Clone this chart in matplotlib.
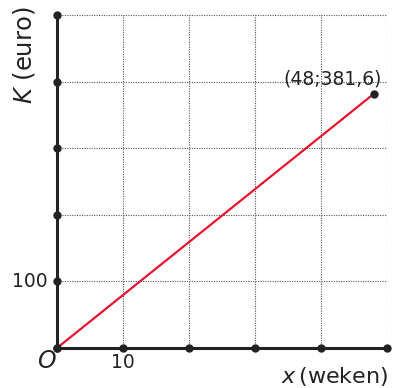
import matplotlib.pyplot as plt

# data
x_line = [0, 48]
k_line = [0, 381.6]
x_ticks = [0, 10, 20, 30, 40, 50]
y_ticks = [0, 100, 200, 300, 400, 500]
end_label = "(48;381,6)"

fig = plt.figure(figsize=(3.93, 3.88), dpi=100)
ax = fig.add_axes([57 / 393, 40 / 388, 330 / 393, 333 / 388])
ax.set_xlim(0, 50)
ax.set_ylim(0, 500)

# grid
for xv in x_ticks[1:]:
    ax.plot([xv, xv], [0, 500], color="#555555", lw=0.8, ls=(0, (1, 1.2)), zorder=1)
for yv in y_ticks[1:]:
    ax.plot([0, 50], [yv, yv], color="#555555", lw=0.8, ls=(0, (1, 1.2)), zorder=1)

for s in ["top", "right"]:
    ax.spines[s].set_visible(False)
for s in ["left", "bottom"]:
    ax.spines[s].set_linewidth(2.2)
    ax.spines[s].set_color("#222222")
ax.set_xticks([])
ax.set_yticks([])

# line
ax.plot(x_line, k_line, color="#e8142f", lw=1.6, zorder=3)
ax.plot(x_line[-1], k_line[-1], "o", color="#222222", ms=5, zorder=4, clip_on=False)

# dots on axes
ax.plot(x_ticks, [0] * len(x_ticks), "o", color="#222222", ms=5, clip_on=False, zorder=5)
ax.plot([0] * len(y_ticks), y_ticks, "o", color="#222222", ms=5, clip_on=False, zorder=5)

ax.annotate(end_label, (x_line[-1], k_line[-1]), xytext=(6, 4), textcoords="offset points",
            ha="right", va="bottom", fontsize=13.5, color="#222222")

ax.text(-1.4, 100, "100", ha="right", va="center", fontsize=13.5, color="#222222", clip_on=False)
ax.text(10, -22, "10", ha="center", va="center", fontsize=13.5, color="#222222", clip_on=False)
ax.text(-1.5, -19, "$O$", ha="center", va="center", fontsize=17, color="#222222", clip_on=False)

ax.text(-5.0, 440, "$K$ (euro)", ha="center", va="center", rotation=90, fontsize=17.5,
        color="#222222", clip_on=False)
ax.text(42.0, -43, "$x\\,$(weken)", ha="center", va="center", fontsize=16,
        color="#222222", clip_on=False)

fig.savefig("out.png", dpi=100)
